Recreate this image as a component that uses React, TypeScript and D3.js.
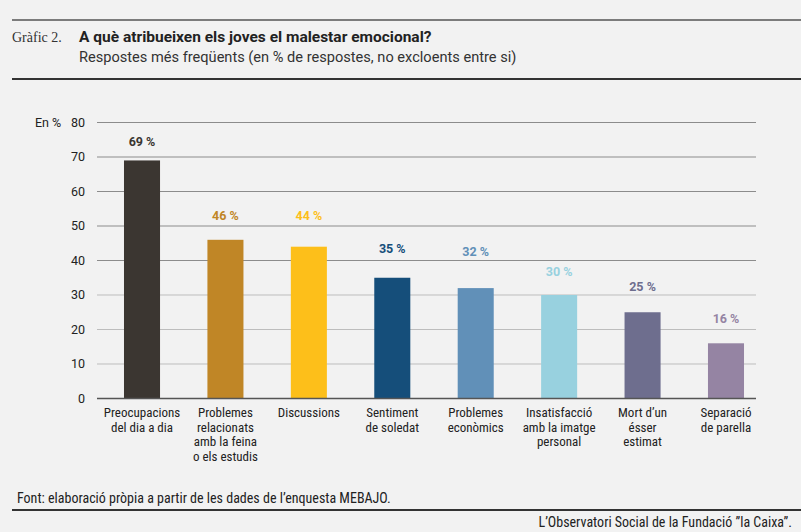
import { useRef, useEffect } from 'react';
import * as d3 from 'd3';

const categories = [
    ['Preocupacions', 'del dia a dia'],
    ['Problemes', 'relacionats', 'amb la feina', 'o els estudis'],
    ['Discussions'],
    ['Sentiment', 'de soledat'],
    ['Problemes', 'econòmics'],
    ['Insatisfacció', 'amb la imatge', 'personal'],
    ['Mort d\u2019un', 'ésser', 'estimat'],
    ['Separació', 'de parella'],
];
const values = [69, 46, 44, 35, 32, 30, 25, 16];
const barColors = ['#3b3631', '#c08626', '#fdbf1a', '#154e7a', '#6190b8', '#98d1df', '#6e6e8e', '#9584a3'];
const yTicks = [0, 10, 20, 30, 40, 50, 60, 70, 80];

// gap (px) between bar top and value label, as placed in the original
const labelGap = [19, 24, 31, 29, 36, 23, 26, 25];

const W = 801;
const H = 532;
const sans = 'Roboto, "Liberation Sans", Arial, sans-serif';
const narrow = '"Liberation Sans Narrow", "Roboto Condensed", Roboto, sans-serif';

const App = () => {
    const ref = useRef<SVGSVGElement>(null);

    useEffect(() => {
        const svg = d3.select(ref.current);
        svg.selectAll('*').remove();

        svg.append('rect').attr('width', W).attr('height', H).attr('fill', '#f2f2f2');

        // header
        svg.append('line').attr('x1', 12).attr('x2', W).attr('y1', 20).attr('y2', 20)
            .attr('stroke', '#555').attr('stroke-width', 1.5);
        svg.append('text').attr('x', 12).attr('y', 42)
            .style('font-family', '"Liberation Serif", "DejaVu Serif", serif')
            .style('font-size', '14px').attr('fill', '#333').text('Gràfic 2.');
        svg.append('text').attr('x', 79).attr('y', 42)
            .style('font-family', sans).style('font-size', '15.5px').style('font-weight', 'bold')
            .attr('fill', '#222').text('A què atribueixen els joves el malestar emocional?');
        svg.append('text').attr('x', 79).attr('y', 62)
            .style('font-family', sans).style('font-size', '14.6px')
            .attr('fill', '#333').text('Respostes més freqüents (en % de respostes, no excloents entre si)');
        svg.append('line').attr('x1', 12).attr('x2', W).attr('y1', 79).attr('y2', 79)
            .attr('stroke', '#333').attr('stroke-width', 2);

        const y = d3.scaleLinear().domain([0, 80]).range([398.5, 122.5]);
        const x = d3.scaleBand<number>()
            .domain(d3.range(values.length))
            .range([100.3, 767.7])
            .paddingInner(0.568)
            .paddingOuter(0.284);

        const gridX0 = 97;
        const gridX1 = 756;

        const grid = svg.append('g');
        grid.selectAll('line')
            .data(yTicks.filter(t => t > 0))
            .enter().append('line')
            .attr('x1', gridX0).attr('x2', gridX1)
            .attr('y1', d => y(d)).attr('y2', d => y(d))
            .attr('stroke', d => (d >= 40 ? '#8c8c8c' : '#bdbdbd'))
            .attr('stroke-width', 1);

        svg.append('g').selectAll('text')
            .data(yTicks)
            .enter().append('text')
            .attr('x', 85).attr('y', d => y(d))
            .attr('dy', '0.35em').attr('text-anchor', 'end')
            .style('font-family', sans).style('font-size', '12.5px')
            .attr('fill', '#222').text(d => d);

        svg.append('text').attr('x', 35).attr('y', y(80)).attr('dy', '0.35em')
            .style('font-family', sans).style('font-size', '12.5px')
            .attr('fill', '#222').text('En %');

        // bars
        svg.append('g').selectAll('rect')
            .data(values)
            .enter().append('rect')
            .attr('x', (_, i) => x(i))
            .attr('y', d => y(d))
            .attr('width', x.bandwidth())
            .attr('height', d => y(0) - y(d))
            .attr('fill', (_, i) => barColors[i]);

        // baseline
        svg.append('line').attr('x1', gridX0).attr('x2', gridX1)
            .attr('y1', y(0)).attr('y2', y(0))
            .attr('stroke', '#555').attr('stroke-width', 1.5);

        // value labels
        svg.append('g').selectAll('text')
            .data(values)
            .enter().append('text')
            .attr('x', (_, i) => x(i) + x.bandwidth() / 2)
            .attr('y', (d, i) => y(d) - labelGap[i])
            .attr('dy', '0.35em').attr('text-anchor', 'middle')
            .style('font-family', sans).style('font-size', '12.5px').style('font-weight', 'bold')
            .attr('fill', (_, i) => barColors[i])
            .text(d => `${d} %`);

        // category labels
        const cat = svg.append('g').selectAll('text')
            .data(categories)
            .enter().append('text')
            .attr('x', (_, i) => x(i) + x.bandwidth() / 2)
            .attr('y', 417)
            .attr('text-anchor', 'middle')
            .style('font-family', narrow).style('font-size', '13px')
            .attr('fill', '#222');
        cat.selectAll('tspan')
            .data(d => d)
            .enter().append('tspan')
            .attr('x', function() { return (this.parentNode as SVGTextElement).getAttribute('x'); })
            .attr('dy', (_, j) => (j === 0 ? 0 : 14.5))
            .text(d => d);

        // footer
        svg.append('text').attr('x', 17).attr('y', 503)
            .style('font-family', narrow).style('font-size', '14px')
            .attr('fill', '#222').text('Font: elaboració pròpia a partir de les dades de l\u2019enquesta MEBAJO.');
        svg.append('line').attr('x1', 12).attr('x2', W).attr('y1', 510).attr('y2', 510)
            .attr('stroke', '#333').attr('stroke-width', 2);
        svg.append('text').attr('x', 792).attr('y', 527).attr('text-anchor', 'end')
            .style('font-family', narrow).style('font-size', '14px')
            .attr('fill', '#222').text('L\u2019Observatori Social de la Fundació \u201dla Caixa\u201d.');
    }, []);

    return <svg ref={ref} width={W} height={H} style={{ position: 'absolute', left: 0, top: 0, display: 'block' }}></svg>;
};

export default App;
